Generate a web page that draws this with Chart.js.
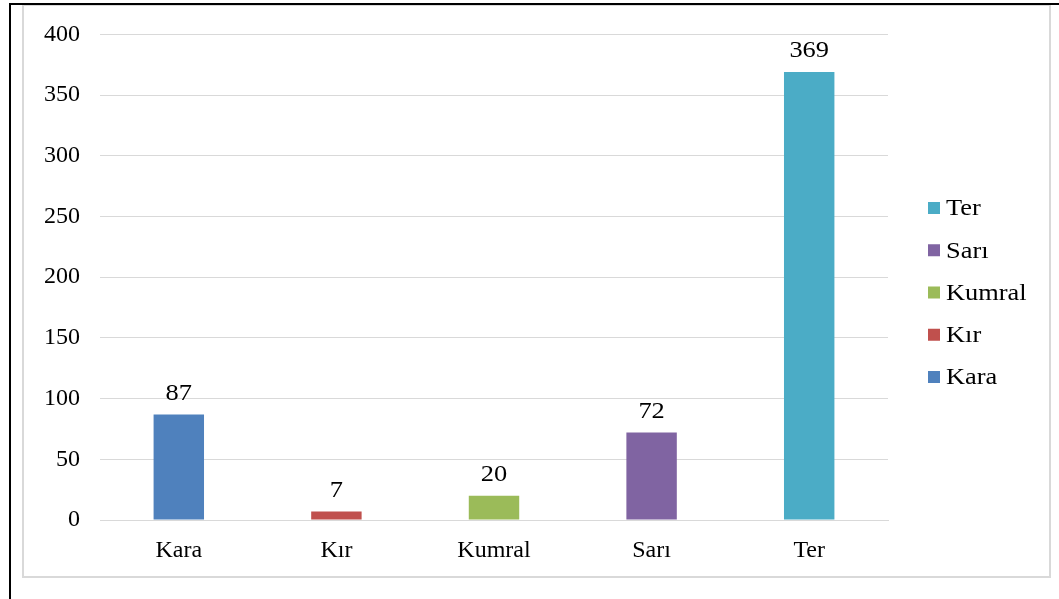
<!DOCTYPE html>
<html>
<head>
<meta charset="utf-8">
<script src="https://cdn.jsdelivr.net/npm/chart.js@4/dist/chart.umd.min.js"></script>
<style>
html,body{margin:0;padding:0;background:#fff;}
#wrap{position:relative;width:1059px;height:599px;}
</style>
</head>
<body>
<div id="wrap"><canvas id="c" width="1059" height="599"></canvas></div>
<script>
const categories = ["Kara", "Kır", "Kumral", "Sarı", "Ter"];
const values = [87, 7, 20, 72, 369];
const colors = ["#4F81BD", "#C0504D", "#9BBB59", "#8064A2", "#4BACC6"];
const yTicks = [0, 50, 100, 150, 200, 250, 300, 350, 400];

const FONT = "'Liberation Serif', 'Times New Roman', serif";
const FSIZE = 24;

const framePlugin = {
  id: 'frame',
  beforeDraw(chart) {
    const ctx = chart.ctx;
    ctx.save();
    ctx.fillStyle = '#fff';
    ctx.fillRect(0, 0, chart.width, chart.height);
    ctx.strokeStyle = '#D9D9D9';
    ctx.lineWidth = 2;
    ctx.strokeRect(23, 5, 1027, 572);
    ctx.fillStyle = '#000';
    ctx.fillRect(9, 3, 2, 596);
    ctx.fillRect(9, 3, 1050, 2);
    ctx.restore();
  }
};

function stretchedText(ctx, text, x, y, align) {
  const sx = 1.1;
  ctx.save();
  ctx.translate(x, y);
  ctx.scale(sx, 1);
  ctx.textAlign = align;
  ctx.fillText(text, 0, 0);
  ctx.restore();
}

const labelPlugin = {
  id: 'vals',
  afterDatasetsDraw(chart) {
    const ctx = chart.ctx;
    const meta = chart.getDatasetMeta(0);
    ctx.save();
    ctx.font = FSIZE + 'px ' + FONT;
    ctx.fillStyle = '#000';
    ctx.textBaseline = 'bottom';
    meta.data.forEach((bar, i) => {
      stretchedText(ctx, String(values[i]), bar.x, bar.y - 9, 'center');
    });
    ctx.restore();
  }
};

const legendPlugin = {
  id: 'customLegend',
  afterDraw(chart) {
    const ctx = chart.ctx;
    ctx.save();
    ctx.font = FSIZE + 'px ' + FONT;
    ctx.textBaseline = 'middle';
    const order = categories.map((c, i) => i).reverse();
    const startY = 208, step = 42.25;
    order.forEach((idx, k) => {
      const y = startY + k * step;
      ctx.fillStyle = colors[idx];
      ctx.fillRect(928, y - 6, 12, 12);
      ctx.fillStyle = '#000';
      stretchedText(ctx, categories[idx], 946, y + 1, 'left');
    });
    ctx.restore();
  }
};

new Chart(document.getElementById('c'), {
  type: 'bar',
  data: {
    labels: categories,
    datasets: [{
      data: values,
      backgroundColor: colors,
      borderWidth: 0,
      barPercentage: 0.32,
      categoryPercentage: 1.0
    }]
  },
  options: {
    responsive: false,
    animation: false,
    devicePixelRatio: 1,
    layout: { padding: { top: 33, right: 171, bottom: 0, left: 0 } },
    plugins: {
      legend: { display: false },
      tooltip: { enabled: false }
    },
    scales: {
      x: {
        grid: { display: false, drawTicks: false },
        border: { display: true, color: '#D9D9D9', width: 1 },
        ticks: { color: '#000', font: { family: FONT, size: FSIZE }, padding: 16 },
        afterFit(scale) { scale.height = 79; }
      },
      y: {
        min: 0, max: 400,
        afterBuildTicks(scale) { scale.ticks = yTicks.map(v => ({ value: v })); },
        grid: { color: '#D9D9D9', lineWidth: 1, drawTicks: false },
        border: { display: false },
        ticks: { color: '#000', font: { family: FONT, size: FSIZE }, padding: 20 },
        afterFit(scale) { scale.width = 100; }
      }
    }
  },
  plugins: [framePlugin, labelPlugin, legendPlugin]
});
</script>
</body>
</html>
